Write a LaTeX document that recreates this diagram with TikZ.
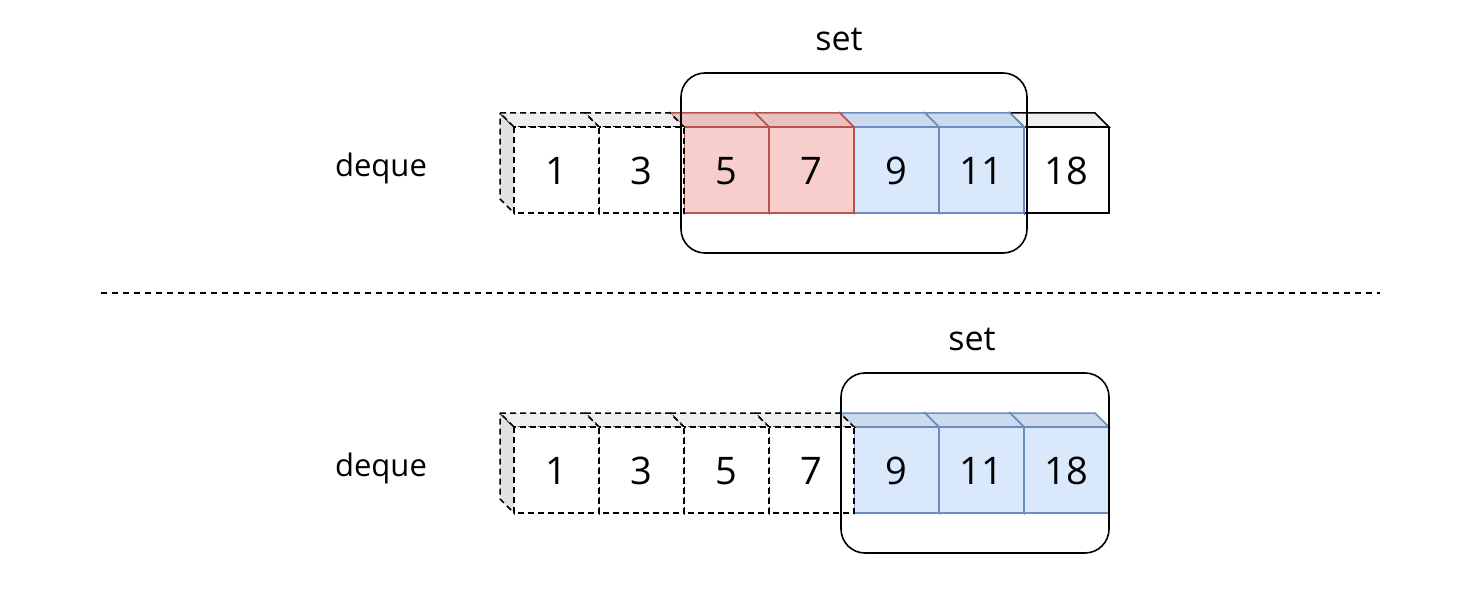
\documentclass[tikz,border=0pt]{standalone}
\usepackage{fontspec}
\setmainfont{Open Sans}
\definecolor{redfill}{HTML}{F8CECC}
\definecolor{redstroke}{HTML}{B85450}
\definecolor{redtop}{HTML}{E9C1BF}
\definecolor{bluefill}{HTML}{DAE8FC}
\definecolor{bluestroke}{HTML}{6C8EBF}
\definecolor{bluetop}{HTML}{CCDAEE}
\definecolor{graytop}{HTML}{EFEFEF}
\definecolor{grayside}{HTML}{E2E2E2}
\newcommand\cubeat[6]{%
  % #1 x of front-left, #2 y of front-top, #3 label, #4 style, #5 top fill, #6 name
  \draw[#4, fill=grayside] ({#1-14},{#2-14}) -- (#1,#2) -- (#1,{#2+86}) -- ({#1-14},{#2+72}) -- cycle;
  \draw[#4, fill=#5] ({#1-14},{#2-14}) -- ({#1+71},{#2-14}) -- ({#1+85},#2) -- (#1,#2) -- cycle;
  \draw[#4] (#1,#2) rectangle ({#1+85},{#2+86});
  \node[num] (#6) at ({#1+42.5},{#2+44}) {#3};
}
\begin{document}
\begin{tikzpicture}[x=1pt,y=-1pt,
  num/.style={font=\fontsize{38}{40}\selectfont, inner sep=0pt},
  lbl/.style={font=\fontsize{31}{34}\selectfont, inner sep=0pt},
  setlbl/.style={font=\fontsize{34}{36}\selectfont, inner sep=0pt},
  dcube/.style={draw=black, line width=1.5pt, dash pattern=on 6pt off 4pt, fill=white},
  rcube/.style={draw=redstroke, line width=1.5pt, fill=redfill},
  bcube/.style={draw=bluestroke, line width=1.5pt, fill=bluefill},
  wcube/.style={draw=black, line width=1.5pt, fill=white},
  setbox/.style={draw=black, line width=1.6pt, rounded corners=24pt},
  sep/.style={draw=black, line width=1.6pt, dash pattern=on 6pt off 5pt}]
\useasboundingbox (0,0) rectangle (1460,612);
% ---- top row (drawn right to left)
\cubeat{1024}{127}{18}{wcube}{graytop}{t7}
\cubeat{939}{127}{11}{bcube}{bluetop}{t6}
\cubeat{854}{127}{9}{bcube}{bluetop}{t5}
\cubeat{769}{127}{7}{rcube}{redtop}{t4}
\cubeat{684}{127}{5}{rcube}{redtop}{t3}
\cubeat{599}{127}{3}{dcube}{graytop}{t2}
\cubeat{514}{127}{1}{dcube}{graytop}{t1}
\node[lbl] (deque1) at (381,168) {deque};
\draw[setbox] (681,73) rectangle (1027,253);
\node[setlbl] (set1) at (839,39) {set};
% ---- separator
\coordinate (sepL) at (101,293);
\coordinate (sepR) at (1380,293);
\draw[sep] (sepL) -- (sepR);
% ---- bottom row
\cubeat{1024}{427}{18}{bcube}{bluetop}{b7}
\cubeat{939}{427}{11}{bcube}{bluetop}{b6}
\cubeat{854}{427}{9}{bcube}{bluetop}{b5}
\cubeat{769}{427}{7}{dcube}{graytop}{b4}
\cubeat{684}{427}{5}{dcube}{graytop}{b3}
\cubeat{599}{427}{3}{dcube}{graytop}{b2}
\cubeat{514}{427}{1}{dcube}{graytop}{b1}
\node[lbl] (deque2) at (381,468) {deque};
\draw[setbox] (841,373) rectangle (1109,553);
\node[setlbl] (set2) at (972,339) {set};
\end{tikzpicture}
\end{document}
